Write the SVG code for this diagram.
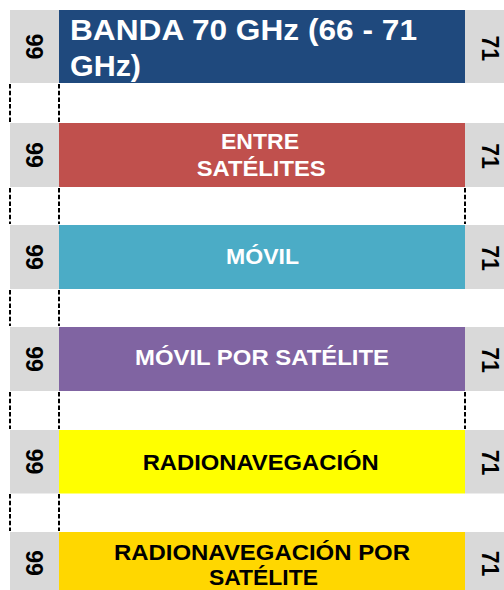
<svg xmlns="http://www.w3.org/2000/svg" width="504" height="590" viewBox="0 0 504 590">
<style>
text{font-family:"Liberation Sans",Arial,sans-serif;font-weight:bold}
.side{fill:#D9D9D9}
.num{font-size:23px;fill:#000;text-anchor:middle}
.w{fill:#FFFFFF;font-size:21.5px}
.b{fill:#000000;font-size:22px}
.dash{stroke:#000;stroke-width:2;stroke-dasharray:4.5 2.2;fill:none}
</style>
<rect width="504" height="590" fill="#FFFFFF"/>
<g id="row1">
<rect class="side" x="10" y="10" width="49" height="73"/>
<rect x="59" y="10" width="406" height="73" fill="#1F497D"/>
<rect class="side" x="465" y="10" width="39" height="73"/>
<text class="num" transform="translate(43.3,46.5) rotate(-90)">66</text>
<text class="num" transform="translate(481.7,48.3) rotate(90)">71</text>
<text x="70" y="39.5" font-size="29" fill="#FFFFFF" textLength="347" lengthAdjust="spacingAndGlyphs">BANDA 70 GHz (66 - 71</text>
<text x="70" y="76" font-size="29" fill="#FFFFFF" textLength="71" lengthAdjust="spacingAndGlyphs">GHz)</text>
</g>
<g id="row2">
<rect class="side" x="10" y="123" width="49" height="64"/>
<rect x="59" y="123" width="406" height="64" fill="#C0504D"/>
<rect class="side" x="465" y="123" width="39" height="64"/>
<text class="num" transform="translate(43.3,155) rotate(-90)">66</text>
<text class="num" transform="translate(481.7,156) rotate(90)">71</text>
<text class="w" x="221" y="148.5" textLength="78" lengthAdjust="spacingAndGlyphs">ENTRE</text>
<text class="w" x="196.7" y="176" textLength="129" lengthAdjust="spacingAndGlyphs">SATÉLITES</text>
</g>
<g id="row3">
<rect class="side" x="10" y="225" width="49" height="64"/>
<rect x="59" y="225" width="406" height="64" fill="#4BACC6"/>
<rect class="side" x="465" y="225" width="39" height="64"/>
<text class="num" transform="translate(43.3,257) rotate(-90)">66</text>
<text class="num" transform="translate(481.7,258) rotate(90)">71</text>
<text class="w" x="226" y="264" textLength="73" lengthAdjust="spacingAndGlyphs">MÓVIL</text>
</g>
<g id="row4">
<rect class="side" x="10" y="327" width="49" height="64"/>
<rect x="59" y="327" width="406" height="64" fill="#8064A2"/>
<rect class="side" x="465" y="327" width="39" height="64"/>
<text class="num" transform="translate(43.3,359) rotate(-90)">66</text>
<text class="num" transform="translate(481.7,360) rotate(90)">71</text>
<text class="w" x="135" y="364.5" textLength="254" lengthAdjust="spacingAndGlyphs">MÓVIL POR SATÉLITE</text>
</g>
<g id="row5">
<rect class="side" x="10" y="430" width="49" height="63.5"/>
<rect x="59" y="430" width="406" height="63.5" fill="#FFFF00"/>
<rect class="side" x="465" y="430" width="39" height="63.5"/>
<text class="num" transform="translate(43.3,461.5) rotate(-90)">66</text>
<text class="num" transform="translate(481.7,462.5) rotate(90)">71</text>
<text class="b" x="142.7" y="469.8" textLength="236" lengthAdjust="spacingAndGlyphs">RADIONAVEGACIÓN</text>
</g>
<g id="row6">
<rect class="side" x="10" y="532" width="49" height="58"/>
<rect x="59" y="532" width="406" height="58" fill="#FFD700"/>
<rect class="side" x="465" y="532" width="39" height="58"/>
<text class="num" transform="translate(43.3,563) rotate(-90)">66</text>
<text class="num" transform="translate(481.7,563.5) rotate(90)">71</text>
<text class="b" x="114" y="559.8" textLength="296" lengthAdjust="spacingAndGlyphs">RADIONAVEGACIÓN POR</text>
<text class="b" x="209" y="585.2" textLength="109" lengthAdjust="spacingAndGlyphs">SATÉLITE</text>
</g>
<g id="connectors">
<path class="dash" d="M10,84V122M59,84V122"/>
<path class="dash" d="M10,188V224M59,188V224M465,188V224"/>
<path class="dash" d="M10,290V326M59,290V326"/>
<path class="dash" d="M10,392V429M59,392V429M465,392V429"/>
<path class="dash" d="M10,494V531M59,494V531"/>
</g>
</svg>
